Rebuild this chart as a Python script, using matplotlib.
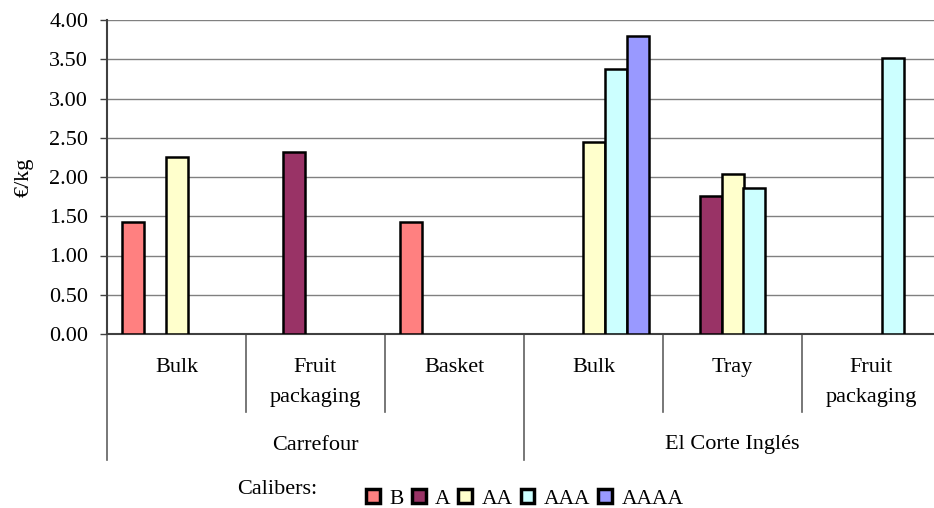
import matplotlib.pyplot as plt
import matplotlib.transforms as mtransforms
import numpy as np

plt.rcParams['font.family'] = ['Liberation Serif', 'DejaVu Serif']

stores = ['Carrefour', 'El Corte Inglés']
packs = ['Bulk', 'Fruit\npackaging', 'Basket', 'Bulk', 'Tray', 'Fruit\npackaging']
pack_store = [0, 0, 0, 1, 1, 1]
calibers = ['B', 'A', 'AA', 'AAA', 'AAAA']
colors = ['#FF8080', '#993366', '#FFFFCC', '#CCFFFF', '#9999FF']

nan = np.nan
# one list per caliber, one value per packaging group
price_B = [1.43, nan, 1.43, nan, nan, nan]
price_A = [nan, 2.32, nan, nan, 1.76, nan]
price_AA = [2.25, nan, nan, 2.45, 2.04, nan]
price_AAA = [nan, nan, nan, 3.37, 1.86, 3.52]
price_AAAA = [nan, nan, nan, 3.80, nan, nan]
prices = [price_B, price_A, price_AA, price_AAA, price_AAAA]

W, H = 934, 508
fig = plt.figure(figsize=(W / 100, H / 100), dpi=100)
ax = fig.add_axes([107 / W, 1 - 334 / H, 834 / W, 314 / H])

n = len(packs)
slot = 22 / 139
off = (1 - slot * len(calibers)) / 2
x0 = np.arange(n)
for k, (cal, vals) in enumerate(zip(calibers, prices)):
    vals = np.array(vals, dtype=float)
    ok = ~np.isnan(vals)
    ax.bar(x0[ok] + off + slot * k, vals[ok], width=slot, align='edge',
           color=colors[k], edgecolor='black', linewidth=1.8, zorder=3,
           label=cal)

ax.set_xlim(0, n)
ax.set_ylim(0, 4)
ax.set_yticks(np.arange(0, 4.01, 0.5))
ax.set_yticklabels(['%.2f' % v for v in np.arange(0, 4.01, 0.5)], fontsize=16)
ax.yaxis.grid(True, color='#808080', linewidth=1)
ax.set_axisbelow(True)
ax.set_xticks([])
ax.tick_params(axis='y', length=5, width=1, color='#404040', pad=8.5)
for s in ['top', 'right']:
    ax.spines[s].set_visible(False)
for s in ['left', 'bottom']:
    ax.spines[s].set_color('#404040')
    ax.spines[s].set_linewidth(1.5)
ax.set_ylabel('€/kg', fontsize=16, labelpad=11)

# multi-level category axis
trans = mtransforms.blended_transform_factory(ax.transData, ax.transAxes)
lvl1 = (334 - 412) / 314
lvl2 = (334 - 460) / 314
for i in range(n + 1):
    bottom = lvl2 if i in (0, 3, 6) else lvl1
    ax.plot([i, i], [0, bottom], transform=trans, color='#606060',
            linewidth=1.2, clip_on=False)
for i, p in enumerate(packs):
    ax.text(i + 0.5, (334 - 358) / 314, p, transform=trans, ha='center',
            va='top', fontsize=16, linespacing=1.82)
for j, st in enumerate(stores):
    idx = [i for i in range(n) if pack_store[i] == j]
    ax.text(np.mean(idx) + 0.5, (334 - 445) / 314, st, transform=trans,
            ha='center', va='center', fontsize=16)

fig.text(237 / W, 1 - 490 / H, 'Calibers:', fontsize=16, ha='left', va='center')
leg = fig.legend(loc='center', bbox_to_anchor=(525 / W, 1 - 499 / H), ncol=5,
                 frameon=False, fontsize=15.5, handlelength=0.65, handleheight=0.65,
                 handletextpad=0.45, columnspacing=0.35, borderpad=0)
for h in leg.legend_handles:
    h.set_linewidth(2.5)

fig.savefig('out.png', dpi=100)
